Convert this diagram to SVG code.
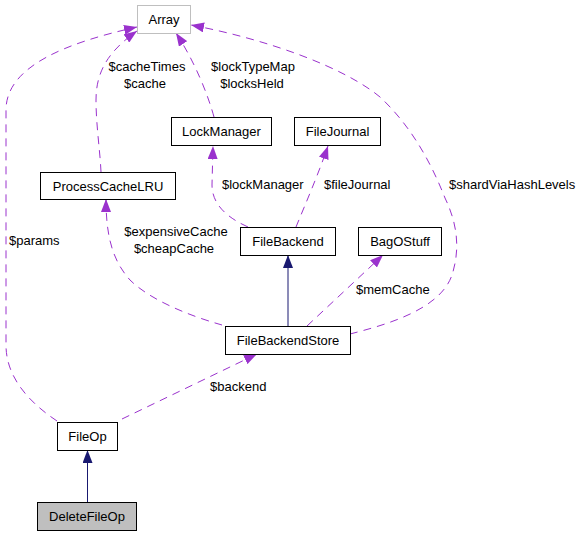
<svg xmlns="http://www.w3.org/2000/svg" width="583" height="536" viewBox="0 0 583 536">
<defs>
<marker id="ap" markerUnits="userSpaceOnUse" markerWidth="13" markerHeight="10" refX="13" refY="5" orient="auto"><path d="M0,0 L13,5 L0,10 z" fill="#9a32cd"/></marker>
<marker id="ab" markerUnits="userSpaceOnUse" markerWidth="13" markerHeight="10" refX="13" refY="5" orient="auto"><path d="M0,0 L13,5 L0,10 z" fill="#191970"/></marker>
<style>
.n rect{fill:#fff;stroke:#000;stroke-width:1}
text{font-family:"Liberation Sans",Arial,sans-serif;font-size:13px;fill:#000}
.n text{text-anchor:middle}
.m{text-anchor:middle}
.u{fill:none;stroke:#9a32cd;stroke-width:1;stroke-dasharray:8,6;marker-end:url(#ap)}
.i{fill:none;stroke:#191970;stroke-width:1;marker-end:url(#ab)}
</style>
</defs>
<rect width="583" height="536" fill="#fff"/>
<g id="connectors">
<path class="u" d="M57,421 C30,403 6,378 6,345 L6,110 C6,65 70,42 137,27"/>
<path class="u" d="M101,172 C100,150 96,125 96,100 C96,70 110,50 137,31"/>
<path class="u" d="M214,117 C208,95 195,62 176,33"/>
<path class="u" d="M350,334 C385,325 440,310 452,275 C460,250 458,225 445,198 C430,160 410,125 380,97 C345,68 270,40 191,25"/>
<path class="u" d="M248,227 C228,218 212,205 212,185 L213,146"/>
<path class="u" d="M296,227 C305,205 318,175 328,146"/>
<path class="u" d="M222,325 C190,316 150,300 130,280 C112,260 106,235 106,199"/>
<path class="u" d="M307,326 L383,255"/>
<path class="u" d="M122,419 L257,354"/>
<path class="i" d="M288,326 L288,255"/>
<path class="i" d="M87.5,502 L87.5,450"/>
<text x="147" y="71" class="m">$cacheTimes</text>
<text x="145" y="88" class="m">$cache</text>
<text x="253" y="71" class="m">$lockTypeMap</text>
<text x="252" y="88" class="m">$locksHeld</text>
<text x="222" y="189">$lockManager</text>
<text x="324" y="189">$fileJournal</text>
<text x="449" y="189">$shardViaHashLevels</text>
<text x="9" y="245">$params</text>
<text x="176" y="236" class="m">$expensiveCache</text>
<text x="174" y="253" class="m">$cheapCache</text>
<text x="356" y="294">$memCache</text>
<text x="210" y="391">$backend</text>
</g>
<g id="Array" class="n"><rect x="137.5" y="5.5" width="53" height="28" style="stroke:#bfbfbf"/><text x="164" y="24">Array</text></g>
<g id="LockManager" class="n"><rect x="171.5" y="117.5" width="100" height="28"/><text x="221.5" y="136">LockManager</text></g>
<g id="FileJournal" class="n"><rect x="294.5" y="117.5" width="86" height="28"/><text x="337.5" y="136">FileJournal</text></g>
<g id="ProcessCacheLRU" class="n"><rect x="40.5" y="172.5" width="135" height="27"/><text x="108" y="190.5">ProcessCacheLRU</text></g>
<g id="FileBackend" class="n"><rect x="240.5" y="227.5" width="95" height="28"/><text x="288" y="246">FileBackend</text></g>
<g id="BagOStuff" class="n"><rect x="358.5" y="227.5" width="83" height="28"/><text x="400" y="246">BagOStuff</text></g>
<g id="FileBackendStore" class="n"><rect x="225.5" y="326.5" width="125" height="28"/><text x="288" y="345">FileBackendStore</text></g>
<g id="FileOp" class="n"><rect x="57.5" y="422.5" width="60" height="28"/><text x="87.5" y="441">FileOp</text></g>
<g id="DeleteFileOp" class="n"><rect x="37.5" y="502.5" width="99" height="28" style="fill:#bfbfbf"/><text x="87" y="521">DeleteFileOp</text></g>
</svg>
